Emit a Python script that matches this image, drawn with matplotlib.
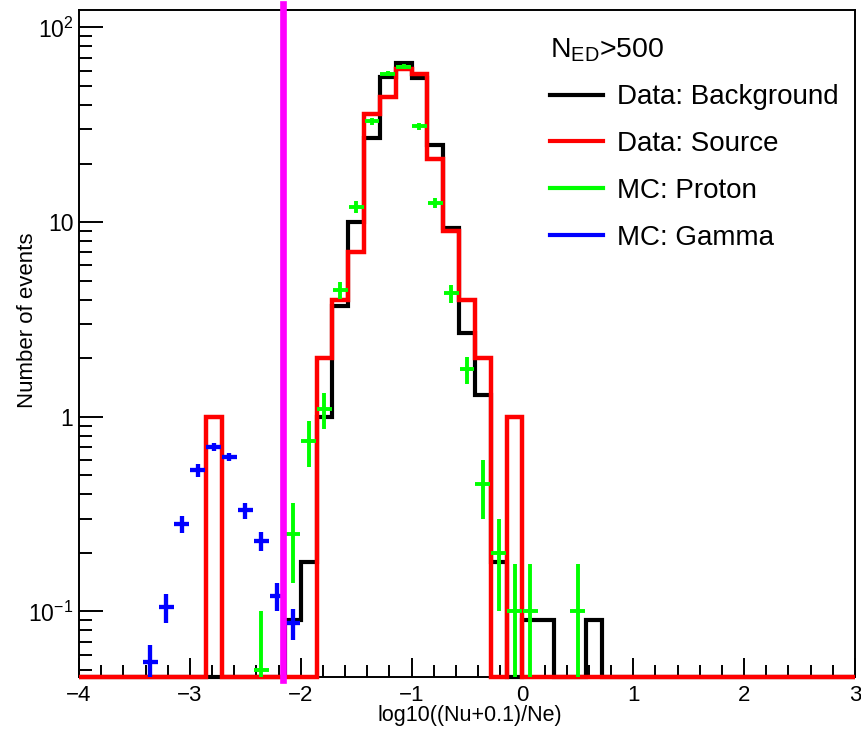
import numpy as np
import matplotlib
matplotlib.use("Agg")
import matplotlib.pyplot as plt
from matplotlib.ticker import MultipleLocator, FixedLocator, FixedFormatter, LogLocator, NullFormatter
from matplotlib.lines import Line2D

# ---------------- data ----------------
bin_lo, bin_hi, n_bins = -4.0, 3.0, 49   # histogram binning of log10((Nu+0.1)/Ne)

# Data: Background (bin index -> content)
bkg_bins = [13, 14, 15, 16, 17, 18, 19, 20, 21, 22, 23, 24, 25, 26, 28, 29, 32]
bkg_vals = [0.09, 0.18, 1.0, 3.7, 10, 27, 56, 66, 55, 25, 9.3, 2.7, 1.3, 0.18, 0.09, 0.09, 0.09]

# Data: Source
src_bins = [8, 15, 16, 17, 18, 19, 20, 21, 22, 23, 24, 25, 27]
src_vals = [1, 2, 4, 7, 36, 44, 61, 58, 21, 9, 4, 2, 1]

# MC: Proton (points with errors)
proton_bins = [11, 13, 14, 15, 16, 17, 18, 19, 20, 21, 22, 23, 24, 25, 26, 27, 28, 31]
proton_vals = [0.05, 0.25, 0.75, 1.1, 4.5, 12, 33, 58, 63, 31, 12.5, 4.3, 1.75, 0.45, 0.2, 0.1, 0.1, 0.1]
proton_errs = [0.05, 0.11, 0.2, 0.23, 0.45, 0.8, 1.3, 1.8, 1.9, 1.3, 0.75, 0.45, 0.28, 0.15, 0.1, 0.075, 0.075, 0.075]

# MC: Gamma (points with errors)
gamma_bins = [4, 5, 6, 7, 8, 9, 10, 11, 12, 13]
gamma_vals = [0.055, 0.105, 0.28, 0.53, 0.70, 0.62, 0.33, 0.23, 0.12, 0.087]
gamma_errs = [0.012, 0.018, 0.028, 0.04, 0.035, 0.03, 0.03, 0.025, 0.02, 0.016]

cut_value = -2.16   # magenta cut line

legend_title = r"$N_{ED}$>500"
series_labels = ["Data: Background", "Data: Source", "MC: Proton", "MC: Gamma"]
series_colors = ["#000000", "#ff0000", "#00ff00", "#0000ff"]

ytick_vals = [0.1, 1, 10, 100]
ytick_labels = [r"$10^{-1}$", "1", "10", r"$10^{2}$"]

xlabel = "log10((Nu+0.1)/Ne)"
ylabel = "Number of events"

# ---------------- style ----------------
plt.rcParams["font.family"] = ["Liberation Sans", "DejaVu Sans"]
plt.rcParams["mathtext.fontset"] = "custom"
plt.rcParams["mathtext.rm"] = "Liberation Sans"
plt.rcParams["mathtext.it"] = "Liberation Sans:italic"
plt.rcParams["mathtext.bf"] = "Liberation Sans:bold"
plt.rcParams["mathtext.default"] = "regular"

W, H = 862, 737
fig = plt.figure(figsize=(W / 100, H / 100), dpi=100)
L, R, T, B = 79, 855, 10, 677
ax = fig.add_axes([L / W, 1 - B / H, (R - L) / W, (B - T) / H])

edges = np.linspace(bin_lo, bin_hi, n_bins + 1)
centers = 0.5 * (edges[:-1] + edges[1:])
bw = edges[1] - edges[0]

ymin, ymax = 0.046, 123

bkg = np.zeros(n_bins)
bkg[bkg_bins] = bkg_vals
src = np.zeros(n_bins)
src[src_bins] = src_vals

ax.set_yscale("log")
ax.set_xlim(bin_lo, bin_hi)
ax.set_ylim(ymin, ymax)

ax.stairs(np.clip(bkg, ymin, None), edges, baseline=None, color=series_colors[0],
          lw=3.0, zorder=2, clip_on=False)
ax.stairs(np.clip(src, ymin, None), edges, baseline=None, color=series_colors[1],
          lw=3.2, zorder=3, clip_on=False)
ax.errorbar(centers[proton_bins], proton_vals, yerr=proton_errs, xerr=0.47 * bw,
            fmt="none", ecolor=series_colors[2], elinewidth=2.8, capsize=0, zorder=4)
ax.errorbar(centers[gamma_bins], gamma_vals, yerr=gamma_errs, xerr=0.47 * bw,
            fmt="none", ecolor=series_colors[3], elinewidth=3.1, capsize=0, zorder=5)
ax.axvline(cut_value, ymin=-0.005, ymax=1.009, color="#ff00ff", lw=4.8, zorder=6, clip_on=False)

# axes / ticks
for s in ax.spines.values():
    s.set_linewidth(1.4)
ax.xaxis.set_major_locator(MultipleLocator(1))
ax.xaxis.set_minor_locator(MultipleLocator(0.2))
ax.yaxis.set_major_locator(FixedLocator(ytick_vals))
ax.yaxis.set_major_formatter(FixedFormatter(ytick_labels))
ax.yaxis.set_minor_locator(LogLocator(base=10, subs=np.arange(2, 10), numticks=30))
ax.yaxis.set_minor_formatter(NullFormatter())
ax.tick_params(axis="x", which="major", direction="in", length=13.7, width=1.4,
               labelsize=16, pad=6, top=False)
ax.tick_params(axis="x", which="minor", direction="in", length=8.4, width=1.4, top=False)
ax.tick_params(axis="y", which="major", direction="in", length=17.3, width=1.4,
               labelsize=16.5, pad=4, right=False)
ax.tick_params(axis="y", which="minor", direction="in", length=9.1, width=1.4, right=False)

ax.set_xlabel(xlabel, fontsize=15.5)
ax.xaxis.set_label_coords((470 - L) / (R - L), -(705 - B) / (B - T))
ax.set_ylabel(ylabel, fontsize=16)
ax.yaxis.set_label_coords(-(L - 38) / (R - L), (B - 320) / (B - T))

handles = [Line2D([], [], color=c, lw=3.0) for c in series_colors]
leg = ax.legend(handles, series_labels, title=legend_title, loc="upper left",
                bbox_to_anchor=(550 / W, 1 - 36 / H), bbox_transform=fig.transFigure,
                frameon=False, fontsize=20, title_fontsize=20.5, alignment="left",
                borderpad=0, borderaxespad=0, handlelength=1.9, handletextpad=0.5,
                labelspacing=0.75)

fig.savefig("out.png", dpi=100)
